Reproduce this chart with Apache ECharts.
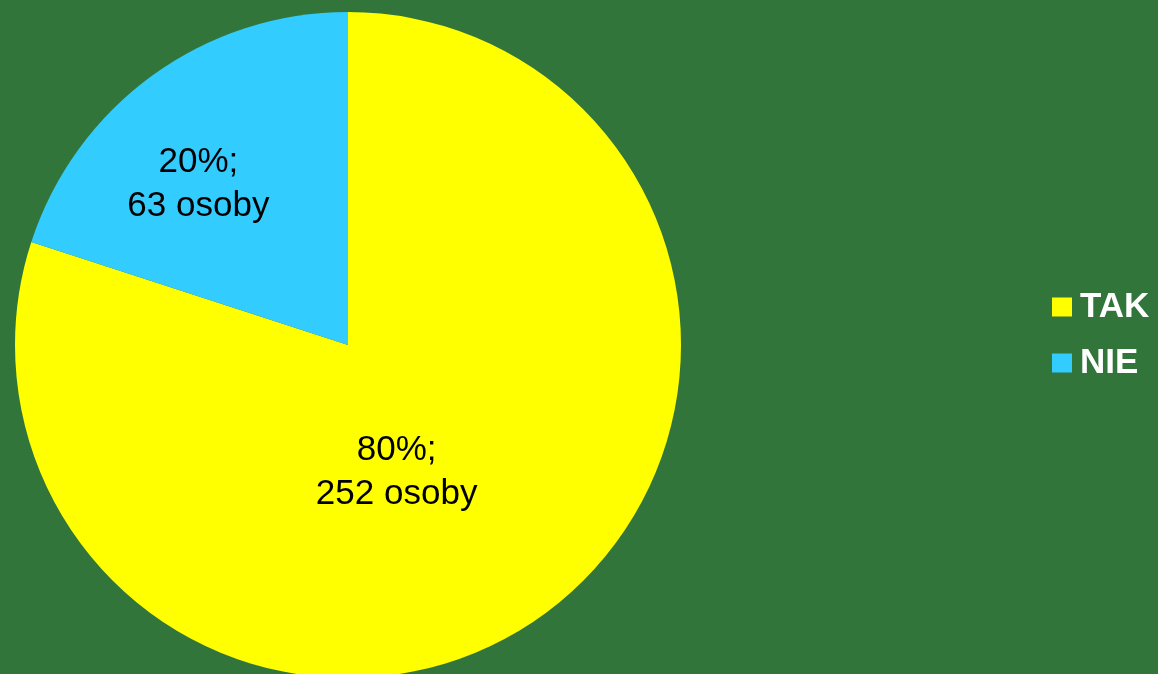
<!DOCTYPE html>
<html><head><meta charset="utf-8">
<script src="https://cdn.jsdelivr.net/npm/echarts@6/dist/echarts.min.js"></script>
<style>html,body{margin:0;padding:0;background:#31753A;}#c{width:1158px;height:674px;}</style>
</head><body><div id="c"></div>
<script>
const categories = ['TAK', 'NIE'];
const counts = [252, 63];
const percents = [80, 20];
const colors = ['#FFFF00', '#33CCFF'];
const labelShift = [[-51, -10], [-50, -24]];

const chart = echarts.init(document.getElementById('c'), null, {renderer: 'canvas'});
chart.setOption({
  backgroundColor: '#31753A',
  animation: false,
  legend: {
    orient: 'vertical',
    left: 1047,
    top: 284,
    icon: 'rect',
    itemWidth: 20,
    itemHeight: 19,
    itemGap: 20,
    data: categories,
    textStyle: {color: '#FFFFFF', fontFamily: 'Liberation Sans', fontWeight: 'bold', fontSize: 35, lineHeight: 36, padding: [0, 0, 0, 3]}
  },
  series: [{
    type: 'pie',
    center: [348, 345],
    radius: 333,
    startAngle: 90,
    clockwise: true,
    avoidLabelOverlap: false,
    data: categories.map((c, i) => ({name: c, value: counts[i], itemStyle: {color: colors[i]}})),
    label: {
      show: true,
      position: 'inside',
      formatter: p => percents[p.dataIndex] + '%;\n' + counts[p.dataIndex] + ' osoby',
      color: '#000000',
      fontFamily: 'Liberation Sans',
      fontSize: 35,
      lineHeight: 44,
      align: 'center'
    },
    labelLine: {show: false},
    labelLayout: p => ({dx: labelShift[p.dataIndex][0], dy: labelShift[p.dataIndex][1]}),
    emphasis: {disabled: true}
  }]
});
</script></body></html>
